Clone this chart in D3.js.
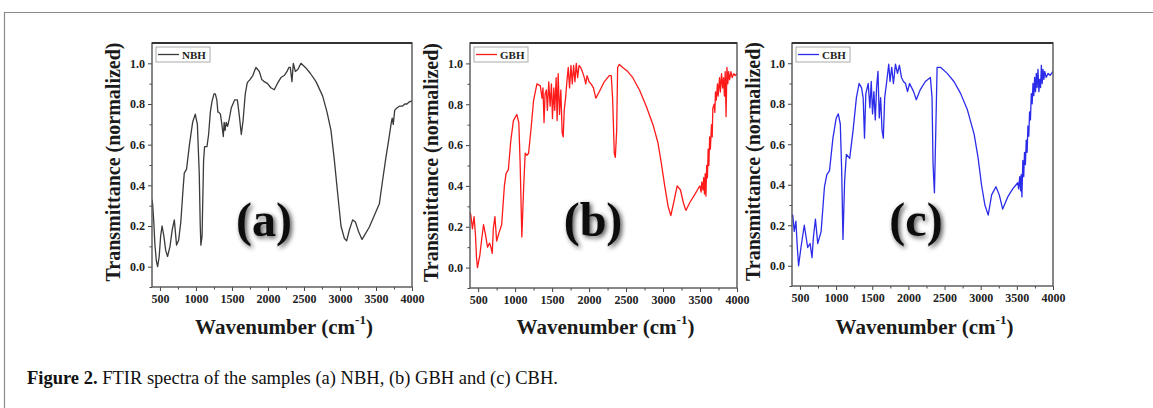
<!DOCTYPE html>
<html>
<head>
<meta charset="utf-8">
<script src="https://cdn.jsdelivr.net/npm/d3@7"></script>
<style>
  body { margin: 0; background: #fff; }
  svg { display: block; }
  .tick text { font-family: "Liberation Serif", "Times New Roman", serif; font-weight: bold; }
</style>
</head>
<body>
<svg id="fig" width="1153" height="408"></svg>
<script>
// spectra: [wavenumber (cm-1), normalized transmittance]
const nbhSpectrum = [
  [390,0.33],[398,0.31],[415,0.22],[430,0.11],[450,0.03],[468,0.0],[490,0.05],[510,0.15],[530,0.2],
  [555,0.15],[580,0.08],[606,0.05],[640,0.1],[670,0.18],[700,0.23],[715,0.17],[731,0.106],[760,0.13],
  [790,0.22],[815,0.35],[838,0.46],[870,0.48],[910,0.6],[954,0.71],[991,0.75],[1020,0.7],[1046,0.46],
  [1060,0.2],[1069,0.106],[1085,0.15],[1106,0.52],[1120,0.59],[1153,0.59],[1176,0.65],[1200,0.76],
  [1222,0.81],[1250,0.85],[1269,0.85],[1290,0.82],[1305,0.76],[1315,0.76],[1340,0.75],[1360,0.7],
  [1380,0.64],[1392,0.71],[1405,0.67],[1420,0.71],[1440,0.69],[1465,0.73],[1490,0.78],[1537,0.82],
  [1575,0.82],[1600,0.75],[1630,0.65],[1655,0.72],[1685,0.85],[1713,0.905],[1750,0.92],[1790,0.94],
  [1810,0.96],[1833,0.98],[1880,0.96],[1915,0.92],[1949,0.91],[1995,0.9],[2040,0.88],[2088,0.87],
  [2130,0.9],[2180,0.93],[2225,0.94],[2265,0.96],[2290,0.98],[2310,0.98],[2333,0.91],[2352,1.0],
  [2380,0.96],[2415,0.97],[2458,1.0],[2520,0.98],[2590,0.95],[2667,0.91],[2759,0.84],[2820,0.76],
  [2875,0.67],[2920,0.53],[2968,0.36],[3014,0.2],[3060,0.14],[3093,0.127],[3130,0.18],[3176,0.23],
  [3215,0.22],[3260,0.17],[3306,0.134],[3350,0.16],[3408,0.195],[3475,0.25],[3547,0.31],[3590,0.42],
  [3639,0.54],[3675,0.62],[3713,0.71],[3725,0.73],[3740,0.7],[3760,0.77],[3790,0.78],[3830,0.79],
  [3870,0.79],[3900,0.8],[3930,0.8],[3960,0.81],[4000,0.815]
];

const gbhSpectrum = [
  [390,0.27],[400,0.26],[423,0.19],[445,0.25],[464,0.16],[478,0.05],[491,0.0],[523,0.06],[545,0.13],
  [573,0.21],[600,0.16],[627,0.1],[655,0.12],[673,0.1],[691,0.07],[705,0.19],[727,0.25],[750,0.13],
  [782,0.17],[818,0.21],[855,0.4],[877,0.46],[909,0.48],[941,0.62],[977,0.72],[1023,0.75],[1050,0.71],
  [1068,0.51],[1091,0.15],[1114,0.38],[1136,0.56],[1159,0.55],[1182,0.56],[1218,0.69],[1250,0.82],
  [1295,0.9],[1341,0.89],[1364,0.83],[1377,0.88],[1391,0.71],[1405,0.85],[1423,0.87],[1436,0.77],
  [1455,0.91],[1473,0.79],[1491,0.9],[1505,0.73],[1523,0.88],[1536,0.77],[1555,0.93],[1568,0.72],
  [1582,0.95],[1600,0.75],[1618,0.87],[1636,0.66],[1650,0.64],[1664,0.77],[1682,0.83],[1700,0.91],
  [1718,0.98],[1736,0.88],[1755,0.99],[1773,0.9],[1791,0.99],[1809,0.91],[1827,1.0],[1845,0.93],
  [1864,0.99],[1886,0.98],[1909,0.96],[1936,0.93],[1955,0.9],[1973,0.94],[2000,0.91],[2027,0.9],
  [2059,0.88],[2091,0.83],[2136,0.86],[2205,0.91],[2273,0.94],[2300,0.94],[2318,0.83],[2341,0.56],
  [2355,0.54],[2373,0.67],[2386,0.98],[2409,0.995],[2455,0.98],[2523,0.96],[2591,0.93],[2682,0.87],
  [2773,0.79],[2864,0.7],[2932,0.61],[2977,0.51],[3023,0.4],[3068,0.3],[3105,0.255],[3145,0.32],
  [3191,0.4],[3236,0.38],[3273,0.32],[3309,0.28],[3364,0.32],[3432,0.36],[3480,0.39],[3500,0.4],
  [3515,0.37],[3525,0.42],[3540,0.38],[3550,0.44],[3560,0.36],[3570,0.46],[3580,0.35],[3590,0.5],
  [3600,0.44],[3610,0.58],[3620,0.5],[3630,0.64],[3640,0.58],[3655,0.7],[3665,0.64],[3673,0.78],
  [3691,0.8],[3700,0.76],[3709,0.86],[3720,0.82],[3736,0.9],[3745,0.84],[3764,0.93],[3775,0.86],
  [3791,0.95],[3805,0.88],[3818,0.93],[3830,0.84],[3841,0.96],[3852,0.74],[3864,0.98],[3876,0.9],
  [3886,0.96],[3900,0.92],[3918,0.96],[3935,0.93],[3955,0.95],[3975,0.94],[4000,0.95]
];

const cbhSpectrum = [
  [390,0.25],[400,0.25],[421,0.17],[444,0.22],[462,0.1],[481,0.0],[514,0.09],[560,0.2],[607,0.09],
  [640,0.11],[667,0.04],[686,0.14],[714,0.23],[746,0.11],[793,0.17],[839,0.39],[872,0.45],[909,0.47],
  [956,0.63],[1002,0.73],[1030,0.75],[1058,0.7],[1077,0.47],[1095,0.13],[1118,0.42],[1142,0.55],
  [1188,0.53],[1235,0.67],[1281,0.83],[1318,0.9],[1351,0.88],[1374,0.83],[1393,0.63],[1411,0.85],
  [1444,0.9],[1467,0.78],[1486,0.91],[1504,0.75],[1523,0.86],[1542,0.72],[1560,0.88],[1579,0.96],
  [1597,0.73],[1616,0.83],[1635,0.67],[1653,0.63],[1672,0.83],[1700,0.91],[1728,0.995],[1746,0.91],
  [1769,0.98],[1793,0.9],[1821,0.995],[1849,0.95],[1876,0.99],[1904,0.93],[1932,0.91],[1960,0.9],
  [1988,0.86],[2016,0.9],[2072,0.86],[2109,0.82],[2165,0.87],[2234,0.91],[2304,0.93],[2327,0.83],
  [2341,0.5],[2360,0.36],[2379,0.67],[2397,0.98],[2444,0.98],[2537,0.95],[2630,0.91],[2723,0.85],
  [2816,0.77],[2909,0.65],[2965,0.53],[3011,0.4],[3058,0.3],[3104,0.25],[3151,0.35],[3211,0.39],
  [3257,0.35],[3304,0.28],[3374,0.34],[3443,0.38],[3490,0.4],[3513,0.41],[3525,0.38],[3540,0.44],
  [3552,0.37],[3560,0.45],[3570,0.34],[3583,0.52],[3595,0.44],[3606,0.56],[3618,0.5],[3630,0.62],
  [3642,0.56],[3653,0.69],[3665,0.64],[3676,0.76],[3688,0.72],[3700,0.85],[3712,0.8],[3723,0.9],
  [3735,0.84],[3746,0.93],[3758,0.86],[3769,0.95],[3780,0.88],[3792,0.97],[3805,0.86],[3816,0.92],
  [3828,0.88],[3839,0.99],[3850,0.9],[3862,0.97],[3874,0.92],[3886,0.96],[3905,0.93],[3932,0.95],
  [3960,0.94],[4000,0.96]
];

const sampleNames = ["NBH", "GBH", "CBH"];
const panelLetters = ["(a)", "(b)", "(c)"];
const lineColors = ["#3a3a3a", "#ff1a1a", "#2b2bea"];
const xTicks = [500, 1000, 1500, 2000, 2500, 3000, 3500, 4000];
const xMinorTicks = [750, 1250, 1750, 2250, 2750, 3250, 3750];
const yTicks = [0.0, 0.2, 0.4, 0.6, 0.8, 1.0];
const yMinorTicks = [-0.1, 0.1, 0.3, 0.5, 0.7, 0.9];
const captionBold = "Figure 2.";
const captionText = " FTIR spectra of the samples (a) NBH, (b) GBH and (c) CBH.";

const spectra = [nbhSpectrum, gbhSpectrum, cbhSpectrum];

// plot frames measured on the figure, plus where the big letter sits
const frames = [
  { left: 152, right: 412, top: 43, bottom: 287, letterX: 264 },
  { left: 470, right: 737, top: 43, bottom: 288, letterX: 593 },
  { left: 792, right: 1053, top: 43, bottom: 286, letterX: 916 }
];

const serif = '"Liberation Serif", "Times New Roman", serif';
const svg = d3.select("#fig");

// blurred halo behind the big panel letters
const defs = svg.append("defs");
const glow = defs.append("filter").attr("id", "glow")
  .attr("x", "-30%").attr("y", "-30%").attr("width", "160%").attr("height", "160%");
glow.append("feGaussianBlur").attr("in", "SourceAlpha").attr("stdDeviation", 2.4).attr("result", "blur");
glow.append("feOffset").attr("in", "blur").attr("dx", 1.5).attr("dy", 1.5).attr("result", "off");
glow.append("feComponentTransfer").attr("in", "off").attr("result", "soft")
  .append("feFuncA").attr("type", "linear").attr("slope", 0.7);
const merge = glow.append("feMerge");
merge.append("feMergeNode").attr("in", "soft");
merge.append("feMergeNode").attr("in", "SourceGraphic");

// figure box (open at right and bottom)
svg.append("path")
  .attr("d", "M4.5,408 L4.5,12.5 L1153,12.5")
  .attr("fill", "none")
  .attr("stroke", "#8a8a8a")
  .attr("stroke-width", 1.2);

frames.forEach((f, i) => {
  const x = d3.scaleLinear().domain([390, 4000]).range([f.left, f.right]);
  const y = d3.scaleLinear().domain([-0.1, 1.1]).range([f.bottom, f.top]);
  const g = svg.append("g");
  const clipId = "clip" + i;
  defs.append("clipPath").attr("id", clipId)
    .append("rect")
    .attr("x", f.left).attr("y", f.top)
    .attr("width", f.right - f.left).attr("height", f.bottom - f.top);

  // spectrum
  const line = d3.line().x(d => x(d[0])).y(d => y(d[1]));
  g.append("path")
    .datum(spectra[i])
    .attr("clip-path", `url(#${clipId})`)
    .attr("d", line)
    .attr("fill", "none")
    .attr("stroke", lineColors[i])
    .attr("stroke-width", 1.3)
    .attr("stroke-linejoin", "round");

  // axes
  g.append("g")
    .attr("transform", `translate(0,${f.bottom})`)
    .call(d3.axisBottom(x).tickValues(xTicks).tickSize(4).tickPadding(3).tickFormat(d3.format("d")));
  g.append("g")
    .attr("transform", `translate(0,${f.bottom})`)
    .call(d3.axisBottom(x).tickValues(xMinorTicks).tickSize(2.5).tickFormat(""))
    .call(a => a.select(".domain").remove());
  g.append("g")
    .attr("transform", `translate(${f.left},0)`)
    .call(d3.axisLeft(y).tickValues(yTicks).tickSize(4).tickPadding(3).tickFormat(d3.format(".1f")));
  g.append("g")
    .attr("transform", `translate(${f.left},0)`)
    .call(d3.axisLeft(y).tickValues(yMinorTicks).tickSize(2.5).tickFormat(""))
    .call(a => a.select(".domain").remove());

  g.selectAll(".tick text").attr("font-size", 12).attr("fill", "#222");
  g.selectAll(".tick line").attr("stroke", "#444").attr("stroke-width", 1);
  g.selectAll(".domain").attr("stroke", "none");

  // frame
  g.append("rect")
    .attr("x", f.left).attr("y", f.top)
    .attr("width", f.right - f.left).attr("height", f.bottom - f.top)
    .attr("fill", "none")
    .attr("stroke", "#555")
    .attr("stroke-width", 1.4);
  g.append("line")
    .attr("x1", f.left).attr("x2", f.right)
    .attr("y1", f.top).attr("y2", f.top)
    .attr("stroke", "#333").attr("stroke-width", 1.8);

  // legend
  const lg = g.append("g").attr("transform", `translate(${f.left + 4},${f.top + 4})`);
  lg.append("rect")
    .attr("width", 54).attr("height", 15)
    .attr("fill", "#fff")
    .attr("stroke", "#aaa").attr("stroke-width", 1);
  lg.append("line")
    .attr("x1", 2).attr("x2", 23).attr("y1", 7.5).attr("y2", 7.5)
    .attr("stroke", lineColors[i]).attr("stroke-width", 1.3);
  lg.append("text")
    .attr("x", 26).attr("y", 11.5)
    .attr("font-family", serif).attr("font-weight", "bold").attr("font-size", 11)
    .attr("fill", "#222")
    .text(sampleNames[i]);

  // big panel letter
  g.append("text")
    .attr("x", f.letterX)
    .attr("y", 236)
    .attr("text-anchor", "middle")
    .attr("font-family", serif).attr("font-weight", "bold").attr("font-size", 48)
    .attr("fill", "#111")
    .attr("filter", "url(#glow)")
    .text(panelLetters[i]);

  // axis titles
  g.append("text")
    .attr("transform", `translate(${f.left - 32},${(f.top + f.bottom) / 2 - 3}) rotate(-90)`)
    .attr("text-anchor", "middle")
    .attr("font-family", serif).attr("font-weight", "bold").attr("font-size", 20)
    .attr("fill", "#1a1a1a")
    .text("Transmittance (normalized)");

  const xt = g.append("text")
    .attr("x", (f.left + f.right) / 2 + 2)
    .attr("y", 334)
    .attr("text-anchor", "middle")
    .attr("font-family", serif).attr("font-weight", "bold").attr("font-size", 21)
    .attr("fill", "#1a1a1a");
  xt.append("tspan").text("Wavenumber (cm");
  xt.append("tspan").attr("font-size", 13).attr("dy", -10).text("-1");
  xt.append("tspan").attr("dy", 10).text(")");
});

// caption
const cap = svg.append("text")
  .attr("x", 27).attr("y", 384)
  .attr("font-family", serif).attr("font-size", 18.5)
  .attr("fill", "#111");
cap.append("tspan").attr("font-weight", "bold").text(captionBold);
cap.append("tspan").text(captionText);
</script>
</body>
</html>
